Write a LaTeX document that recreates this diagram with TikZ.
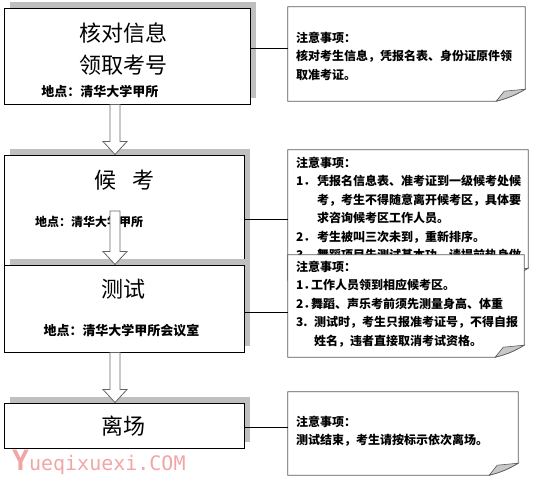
\documentclass[tikz,border=0pt]{standalone}
\usepackage{fontspec}
\setmainfont{Noto Sans CJK SC}
\newfontfamily\markfont{DejaVu Sans Mono}
\usetikzlibrary{calc,shadows}

\definecolor{notegray}{HTML}{5A5A5A}
\definecolor{foldgray}{HTML}{C8C8C8}
\definecolor{markpink}{HTML}{F2A5A5}

\tikzset{
    stepbox/.style={draw=black, fill=white, line width=1pt, inner sep=0pt,
        general shadow={fill=gray!50, shadow xshift=6pt, shadow yshift=6pt}},
    titletext/.style={inner sep=0pt, font=\fontsize{22}{22}\selectfont},
    placetext/.style={inner sep=0pt, font=\fontsize{13}{13}\selectfont\bfseries},
    notearea/.style={inner sep=0pt},
    notebox/.style={draw=notegray, fill=white, line width=0.8pt},
    notefold/.style={draw=notegray, fill=foldgray, line width=0.6pt},
    notetext/.style={inner sep=0pt, anchor=north west, align=left,
        font=\fontsize{12}{18.4}\selectfont\bfseries},
    link/.style={draw=black, line width=0.7pt},
    blockarrow/.style={draw=gray!80!black, fill=white, line width=0.8pt},
}
% note paper with the bottom right corner turned up
\newcommand{\foldnote}[1]{%
    \filldraw[notebox] (#1.north west) -- (#1.north east) -- ([yshift=12pt]#1.south east)
        to[bend left=8] ([xshift=-29pt]#1.south east) -- (#1.south west) -- cycle;
    \filldraw[notefold] ([xshift=-29pt]#1.south east) -- ([xshift=-21pt,yshift=10pt]#1.south east)
        -- ([yshift=12pt]#1.south east) to[bend left=8] cycle;}
% hollow arrow pointing down from #1 to #2
\newcommand{\hollowarrow}[2]{%
    \filldraw[blockarrow] let \p1=(#1), \p2=(#2) in
        (\x1-5pt,\y1) -- (\x1-5pt,\y2+13pt) -- (\x1-12pt,\y2+13pt) -- (\x1,\y2)
        -- (\x1+12pt,\y2+13pt) -- (\x1+5pt,\y2+13pt) -- (\x1+5pt,\y1) -- cycle;}
\newcommand{\itemno}[2]{\makebox[#1][l]{#2}}

\begin{document}
\begin{tikzpicture}[x=1pt, y=-1pt]
    \useasboundingbox (0,0) rectangle (536,480);

    % step 1: check the data, get the number
    \node[stepbox, minimum width=246pt, minimum height=96pt] (check) at (127,56) {};
    \node[titletext] (checkA) at (123,33) {核对信息};
    \node[titletext] (checkB) at (123,65) {领取考号};
    \node[placetext] (checkplace) at (100,92) {地点：清华大学甲所};

    % step 2: waiting
    \node[stepbox, minimum width=240pt, minimum height=110pt] (wait) at (124,210) {};
    \node[titletext] (waitA) at (124.5,180) {候\hspace{17pt}考};
    \node[placetext, font=\fontsize{12}{12}\selectfont\bfseries] (waitplace) at (89,222) {地点：清华大学甲所};

    % step 3: the test
    \node[stepbox, minimum width=240pt, minimum height=87pt] (test) at (124,308.5) {};
    \node[titletext] (testA) at (123,289) {测试};
    \node[placetext] (testplace) at (121.5,331) {地点：清华大学甲所会议室};

    % step 4: leaving
    \node[stepbox, minimum width=240pt, minimum height=45pt] (leave) at (124,425.5) {};
    \node[titletext] (leaveA) at (123,426) {离场};

    % arrows between the steps
    \coordinate (a1) at ([xshift=-12pt]check.south);
    \hollowarrow{a1}{a1 |- wait.north}
    \coordinate (a2) at ([xshift=-9pt,yshift=-1pt]wait.center);
    \hollowarrow{a2}{a2 |- test.north}
    \coordinate (a3) at ([xshift=-9pt]test.south);
    \hollowarrow{a3}{a3 |- leave.north}

    % notes
    \node[notearea, minimum width=237pt, minimum height=94pt] (note1) at (406.5,54) {};
    \foldnote{note1}
    \node[notetext] (note1text) at ([xshift=8pt,yshift=-25pt]note1.north west)
        {注意事项：\\核对考生信息，凭报名表、身份证原件领\\取准考证。};

    \node[notearea, minimum width=240pt, minimum height=130pt] (note2) at (408,215) {};
    \foldnote{note2}
    \node[notetext] (note2text) at ([xshift=8pt,yshift=-7pt]note2.north west)
        {注意事项：\\
         \itemno{21pt}{1．}凭报名信息表、准考证到一级候考处候\\
         \hspace*{21pt}考，考生不得随意离开候考区，具体要\\
         \hspace*{21pt}求咨询候考区工作人员。\\
         \itemno{21pt}{2．}考生被叫三次未到，重新排序。\\
         \itemno{21pt}{3．}舞蹈项目先测试基本功，请提前热身做};

    \node[notearea, minimum width=236pt, minimum height=102pt] (note3) at (406,306) {};
    \foldnote{note3}
    \node[notetext] (note3text) at ([xshift=8pt,yshift=-6pt]note3.north west)
        {注意事项：\\
         \itemno{15pt}{1．}工作人员领到相应候考区。\\
         \itemno{15pt}{2．}舞蹈、声乐考前须先测量身高、体重\\
         \itemno{18pt}{3.}测试时，考生只报准考证号，不得自报\\
         \hspace*{18pt}姓名，违者直接取消考试资格。};

    \node[notearea, minimum width=230pt, minimum height=83pt] (note4) at (403,433.5) {};
    \foldnote{note4}
    \node[notetext] (note4text) at ([xshift=8pt,yshift=-24pt]note4.north west)
        {注意事项：\\测试结束，考生请按标示依次离场。};

    % links from the steps to their notes
    \coordinate (l1) at ([yshift=8pt]check.east);
    \draw[link] (l1) -- (l1 -| note1.west);
    \coordinate (l2) at ([yshift=-9pt]wait.east);
    \draw[link] (l2) -- (l2 -| note2.west);
    \coordinate (l3) at ([yshift=-3.5pt]test.east);
    \draw[link] (l3) -- (l3 -| note3.west);
    \coordinate (l4) at ([yshift=-1.5pt]leave.east);
    \draw[link] (l4) -- (l4 -| note4.west);

    % site mark
    \node[inner sep=0pt, anchor=base west, text=markpink] (sitemark) at (12,470)
        {\markfont\fontsize{20}{20}\selectfont{\fontsize{28}{28}\selectfont\bfseries Y}ueqixuexi.COM};
\end{tikzpicture}
\end{document}
